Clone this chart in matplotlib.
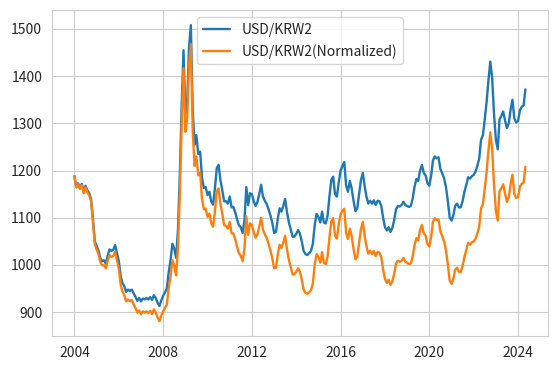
import pandas as pd
import matplotlib
matplotlib.use('Agg')
import matplotlib.pyplot as plt
import seaborn as sns

tarih = pd.date_range('2004-01-01', '2024-05-01', freq='MS')

usd_krw2 = [
    1188, 1165, 1173, 1163, 1172, 1155, 1168, 1158, 1152, 1140, 1097, 1050,
    1040, 1030, 1015, 1008, 1010, 1003, 1020, 1033, 1030, 1032, 1042, 1025,
    1008, 975, 962, 955, 943, 948, 945, 948, 940, 933, 924, 930,
    923, 929, 927, 930, 927, 932, 926, 936, 930, 920, 913, 925,
    935, 942, 950, 985, 1010, 1045, 1035, 1015, 1075, 1190, 1340, 1455,
    1320, 1350, 1460, 1508, 1330, 1255, 1275, 1235, 1240, 1185, 1163, 1165,
    1148, 1155, 1135, 1128, 1160, 1205, 1212, 1180, 1158, 1135, 1135, 1130,
    1145, 1122, 1123, 1112, 1097, 1084, 1080, 1068, 1095, 1165, 1127, 1152,
    1150, 1135, 1125, 1133, 1150, 1170, 1145, 1136, 1129, 1118, 1105, 1090,
    1068, 1070, 1097, 1120, 1113, 1125, 1140, 1112, 1090, 1076, 1060, 1060,
    1066, 1074, 1067, 1050, 1030, 1023, 1021, 1025, 1030, 1045, 1085, 1108,
    1102, 1090, 1113, 1090, 1088, 1105, 1145, 1180, 1187, 1150, 1145, 1175,
    1200, 1210, 1218, 1168, 1155, 1178, 1162, 1136, 1114, 1120, 1150, 1180,
    1195, 1166, 1145, 1130, 1136, 1130, 1137, 1127, 1136, 1135, 1125, 1100,
    1080, 1073, 1080, 1070, 1078, 1095, 1118, 1125, 1124, 1127, 1134, 1127,
    1125, 1123, 1125, 1140, 1165, 1182, 1178, 1200, 1212, 1195, 1190, 1173,
    1168, 1190, 1222, 1230, 1226, 1228, 1203, 1194, 1183, 1165, 1135, 1101,
    1094, 1106, 1125, 1130, 1122, 1122, 1135, 1155, 1170, 1186, 1183, 1188,
    1191, 1198, 1210, 1225, 1265, 1275, 1308, 1345, 1392, 1431, 1395, 1320,
    1265, 1245, 1308, 1316, 1325, 1306, 1290, 1300, 1330, 1350, 1310, 1302,
    1305, 1328, 1335, 1338, 1372,
]

usd_krw2_norm = [
    1188, 1164, 1171, 1161, 1169, 1152, 1164, 1154, 1147, 1135, 1091, 1044,
    1033, 1023, 1007, 999, 1000, 993, 1009, 1021, 1017, 1019, 1028, 1010,
    992, 958, 944, 936, 923, 927, 923, 926, 917, 909, 899, 904,
    896, 902, 899, 902, 898, 903, 896, 906, 899, 889, 881, 893,
    902, 909, 916, 951, 975, 1010, 999, 978, 1037, 1150, 1298, 1417,
    1282, 1312, 1420, 1468, 1285, 1210, 1230, 1190, 1195, 1140, 1118, 1119,
    1102, 1109, 1089, 1081, 1112, 1156, 1162, 1130, 1108, 1084, 1083, 1077,
    1091, 1067, 1067, 1055, 1039, 1025, 1020, 1008, 1034, 1103, 1064, 1088,
    1085, 1069, 1058, 1065, 1081, 1100, 1075, 1065, 1057, 1045, 1031, 1015,
    993, 994, 1021, 1043, 1036, 1047, 1062, 1033, 1011, 996, 980, 980,
    986, 993, 986, 969, 948, 941, 939, 942, 947, 961, 1001, 1023,
    1017, 1005, 1027, 1004, 1002, 1018, 1058, 1092, 1099, 1062, 1056, 1086,
    1108, 1115, 1119, 1068, 1055, 1077, 1061, 1034, 1012, 1017, 1047, 1076,
    1091, 1061, 1040, 1024, 1030, 1023, 1030, 1019, 1028, 1026, 1016, 990,
    970, 962, 969, 958, 965, 981, 1003, 1009, 1007, 1009, 1015, 1007,
    1005, 1002, 1003, 1017, 1041, 1057, 1052, 1074, 1085, 1067, 1062, 1044,
    1039, 1060, 1092, 1099, 1095, 1096, 1071, 1061, 1050, 1031, 1001, 967,
    960, 971, 990, 994, 986, 985, 998, 1017, 1032, 1047, 1043, 1048,
    1050, 1056, 1067, 1081, 1120, 1129, 1161, 1197, 1243, 1281, 1244, 1170,
    1115, 1094, 1156, 1163, 1171, 1151, 1134, 1143, 1172, 1191, 1150, 1142,
    1144, 1166, 1172, 1174, 1208,
]

sns.set_style('whitegrid')
plt.rcParams['font.family'] = ['Noto Sans CJK KR', 'DejaVu Sans']

fig, ax = plt.subplots(figsize=(5.58, 3.7), dpi=100)
ax.plot(tarih, usd_krw2, label='USD/KRW2', color='#1f77b4', linewidth=1.7)
ax.plot(tarih, usd_krw2_norm, label='USD/KRW2(Normalized)', color='#ff7f0e', linewidth=1.7)
ax.tick_params(labelsize=10)
ax.legend(loc='upper center', fontsize=10)
fig.subplots_adjust(left=0.093, right=0.982, top=0.972, bottom=0.092)
fig.savefig('out.png')
